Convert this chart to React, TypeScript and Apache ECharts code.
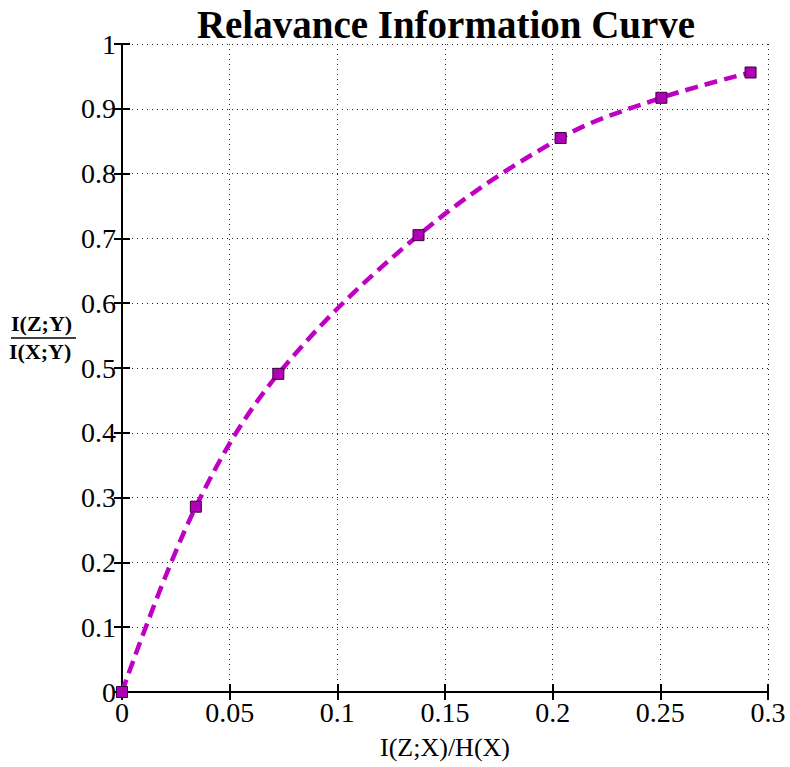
import React, { useEffect, useRef } from "react";
import * as echarts from "echarts";

// Relevance information curve: compression I(Z;X)/H(X) vs. retained relevance I(Z;Y)/I(X;Y)
const compression: number[] = [0, 0.0343, 0.0726, 0.1377, 0.2037, 0.2505, 0.2919];
const relevance: number[] = [0, 0.286, 0.491, 0.705, 0.855, 0.917, 0.956];

const titleText = "Relavance Information Curve";
const xAxisTitle = "I(Z;X)/H(X)";
const yNumerator = "I(Z;Y)";
const yDenominator = "I(X;Y)";

const FONT = "'Liberation Serif', 'DejaVu Serif', serif";
const CURVE = "#bf00c4";

export default function App() {
  const ref = useRef<HTMLDivElement>(null);

  useEffect(() => {
    if (!ref.current) return;
    const chart = echarts.init(ref.current, undefined, { renderer: "svg" });

    const points = compression.map((x, i) => [x, relevance[i]]);

    const dotted = { show: true, lineStyle: { color: "#222", width: 1, type: [1, 4] as number[] } };
    const frame = { show: true, lineStyle: { color: "#000", width: 2 } };
    const ticksIn = { show: true, inside: true, length: 8, lineStyle: { color: "#000", width: 2 } };

    chart.setOption({
      animation: false,
      backgroundColor: "#fff",
      title: {
        text: titleText,
        left: 441,
        textAlign: "center",
        top: 0,
        textStyle: { fontFamily: FONT, fontSize: 39, fontWeight: "bold", color: "#000" },
      },
      grid: { left: 122, right: 22, top: 44, bottom: 75 },
      xAxis: [
        {
          type: "value",
          min: 0,
          max: 0.3,
          interval: 0.05,
          position: "bottom",
          axisLine: frame,
          axisTick: ticksIn,
          splitLine: dotted,
          axisLabel: { fontFamily: FONT, fontSize: 28, color: "#000", margin: 6 },
          name: xAxisTitle,
          nameLocation: "middle",
          nameGap: 42,
          nameTextStyle: { fontFamily: FONT, fontSize: 26, color: "#000" },
        },
        {
          type: "value",
          min: 0,
          max: 0.3,
          interval: 0.05,
          position: "top",
          axisLine: frame,
          axisTick: ticksIn,
          axisLabel: { show: false },
          splitLine: { show: false },
        },
      ],
      yAxis: [
        {
          type: "value",
          min: 0,
          max: 1,
          interval: 0.1,
          position: "left",
          axisLine: frame,
          axisTick: ticksIn,
          splitLine: dotted,
          axisLabel: { fontFamily: FONT, fontSize: 28, color: "#000", margin: 6 },
        },
        {
          type: "value",
          min: 0,
          max: 1,
          interval: 0.1,
          position: "right",
          axisLine: frame,
          axisTick: ticksIn,
          axisLabel: { show: false },
          splitLine: { show: false },
        },
      ],
      graphic: [
        {
          type: "text",
          left: 11,
          top: 312,
          style: { text: yNumerator, font: `bold 22px ${FONT}`, fill: "#000" },
        },
        {
          type: "line",
          shape: { x1: 11, y1: 338, x2: 76, y2: 338 },
          style: { stroke: "#000", lineWidth: 1.5 },
        },
        {
          type: "text",
          left: 9,
          top: 340,
          style: { text: yDenominator, font: `bold 22px ${FONT}`, fill: "#000" },
        },
      ],
      series: [
        {
          type: "line",
          data: points,
          smooth: 0.35,
          symbol: "rect",
          symbolSize: 11,
          itemStyle: { color: "#b000b4", borderColor: "#3a003a", borderWidth: 1 },
          lineStyle: { color: CURVE, width: 4.5, type: [13, 7] as number[] },
          z: 3,
        },
      ],
    });

    return () => chart.dispose();
  }, []);

  return (
    <div
      ref={ref}
      style={{ position: "fixed", left: 0, top: 0, width: 790, height: 767, background: "#fff" }}
    />
  );
}
